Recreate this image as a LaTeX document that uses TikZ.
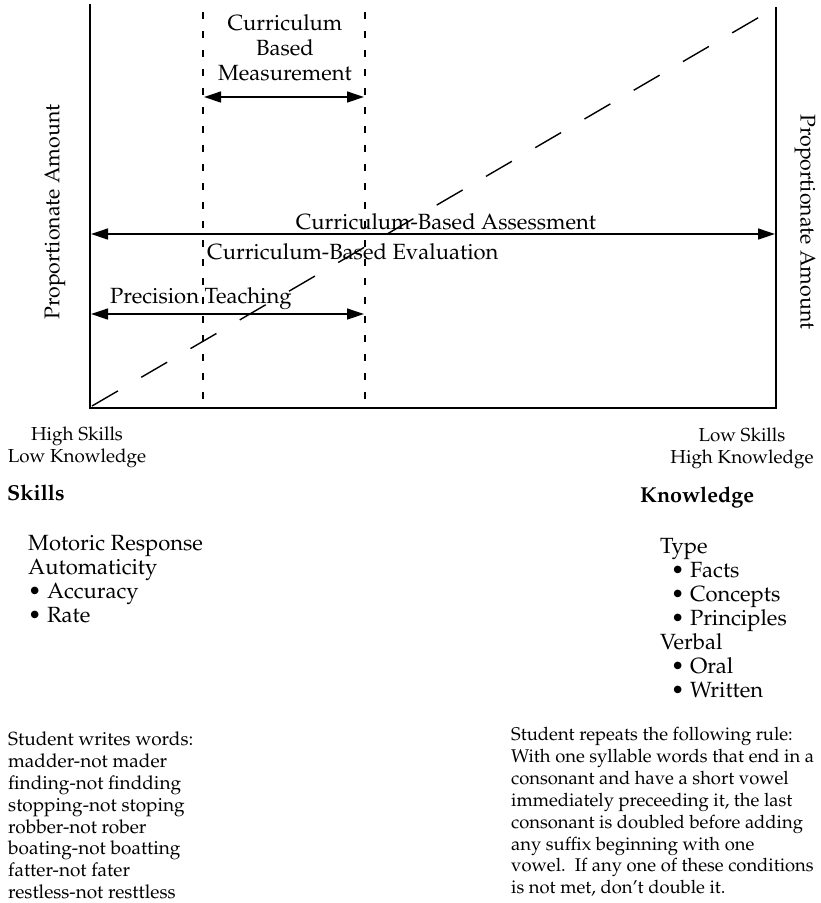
\documentclass[tikz,border=0pt]{standalone}
\usepackage[T1]{fontenc}
\usepackage{mathpazo}
\usetikzlibrary{arrows.meta}
\tikzset{
  axis/.style={line width=1.9pt, line cap=rect},
  vdash/.style={line width=1.5pt, dash pattern=on 7pt off 12pt},
  ddash/.style={line width=1.4pt, dash pattern=on 30pt off 27pt},
  rng/.style={line width=1.3pt, {Triangle[length=17pt,width=11pt]}-{Triangle[length=17pt,width=11pt]}},
  lbl/.style={font=\fontsize{22}{25}\selectfont, inner sep=0pt},
  lst/.style={font=\fontsize{22}{24}\selectfont, inner sep=0pt, align=left},
  ends/.style={font=\fontsize{18.8}{22}\selectfont, inner sep=0pt, align=center},
  head/.style={font=\fontsize{21.6}{24}\selectfont\bfseries, inner sep=0pt, anchor=west},
  botl/.style={font=\fontsize{19}{21.8}\selectfont, inner sep=0pt, align=left, anchor=north west},
  botr/.style={font=\fontsize{18.4}{21.9}\selectfont, inner sep=0pt, align=left, anchor=north west},
}
\newcommand{\bul}{\hspace{11pt}\textbullet\ }
\begin{document}
\begin{tikzpicture}[x=1pt,y=-1pt]
\useasboundingbox (0,0) rectangle (820,903);
% frame
\coordinate (tl) at (90,5);
\coordinate (bl) at (90,408);
\coordinate (br) at (776,408);
\coordinate (tr) at (776,8);
\draw[axis] (tl) -- (bl) -- (br) -- (tr);
% dashed verticals
\coordinate (v1t) at (203,12);
\coordinate (v1b) at (203,408);
\coordinate (v2t) at (365,12);
\coordinate (v2b) at (365,408);
\draw[vdash] (v1t) -- (v1b);
\draw[vdash] (v2t) -- (v2b);
% diagonal
\coordinate (dg1) at (92,406);
\coordinate (dg2) at (768,12);
\draw[ddash] (dg1) -- (dg2);
% range arrows
\coordinate (cbmL) at (204,97);
\coordinate (cbmR) at (364,97);
\draw[rng] (cbmL) -- (cbmR);
\coordinate (cbaL) at (91,234);
\coordinate (cbaR) at (775,234);
\draw[rng] (cbaL) -- (cbaR);
\coordinate (ptL) at (91,314);
\coordinate (ptR) at (364,314);
\draw[rng] (ptL) -- (ptR);
% labels
\node[lbl, align=center] (cbm) at (285,48) {Curriculum\\Based\\Measurement};
\node[lbl] (cba) at (446,222) {Curriculum-Based Assessment};
\node[lbl, anchor=west] (cbe) at (207,252) {Curriculum-Based Evaluation};
\node[lbl, anchor=west] (pt) at (110,299) {Precision Teaching};
\node[lbl, rotate=90, font=\fontsize{21.3}{24}\selectfont] (pal) at (55,212) {Proportionate Amount};
\node[lbl, rotate=-90, font=\fontsize{21.3}{24}\selectfont] (par) at (805,222) {Proportionate Amount};
% end labels
\node[ends] (hs) at (77,447) {High Skills\\Low Knowledge};
\node[ends] (ls) at (742,448) {Low Skills\\High Knowledge};
\node[head] (sk) at (7,493) {Skills};
\node[head] (kn) at (640,497) {Knowledge};
\node[lst, anchor=north west] (sklist) at (28,535) {Motoric Response\\Automaticity\\\textbullet\ Accuracy\\\textbullet\ Rate};
\node[lst, anchor=north west] (knlist) at (660,538) {Type\\\bul Facts\\\bul Concepts\\\bul Principles\\Verbal\\\bul Oral\\\bul Written};
% bottom texts
\node[botl] (sw) at (8,732) {Student writes words:\\madder-not mader\\finding-not findding\\stopping-not stoping\\robber-not rober\\boating-not boatting\\fatter-not fater\\restless-not resttless};
\node[botr] (sr) at (511,727) {Student repeats the following rule:\\With one syllable words that end in a\\consonant and have a short vowel\\immediately preceeding it, the last\\consonant is doubled before adding\\any suffix beginning with one\\vowel.\ \ If any one of these conditions\\is not met, don't double it.};
\end{tikzpicture}
\end{document}
